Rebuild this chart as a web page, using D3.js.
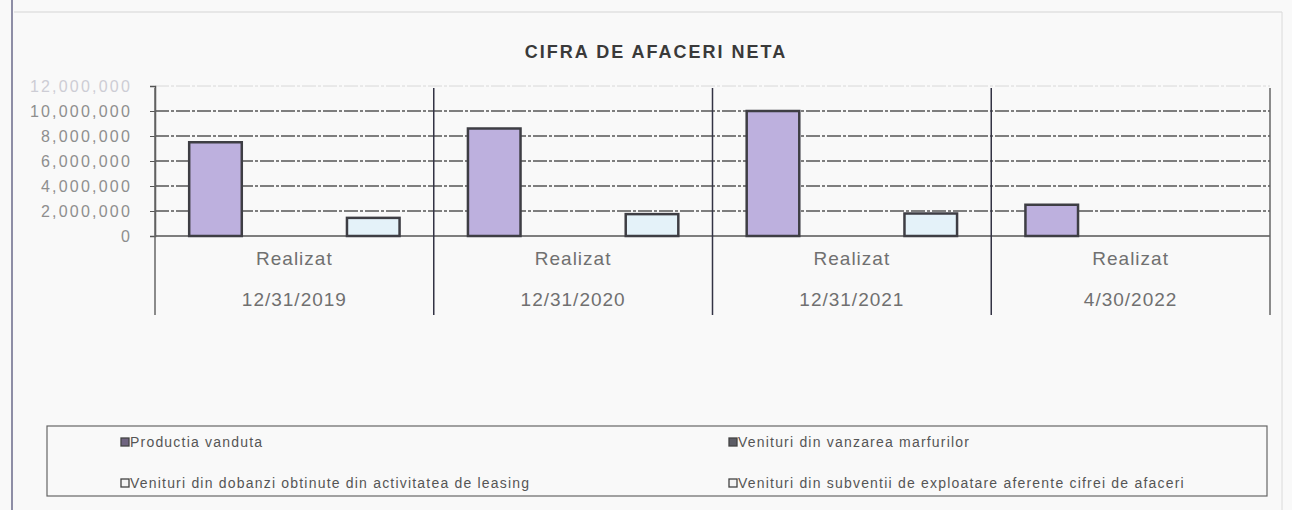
<!DOCTYPE html>
<html><head><meta charset="utf-8">
<script src="https://cdn.jsdelivr.net/npm/d3@7"></script>
<style>html,body{margin:0;padding:0;background:#f9f9f9;}svg{display:block;}</style>
</head><body>
<script>
const categories = ["12/31/2019","12/31/2020","12/31/2021","4/30/2022"];
const categoryPrefix = ["Realizat","Realizat","Realizat","Realizat"];
const seriesNames = ["Productia vanduta","Venituri din vanzarea marfurilor","Venituri din dobanzi obtinute din activitatea de leasing","Venituri din subventii de exploatare aferente cifrei de afaceri"];
const productiaVanduta = [7500000, 8600000, 10000000, 2500000];
const venituriMarfuri = [0, 0, 0, 0];
const venituriDobanzi = [0, 0, 0, 0];
const venituriSubventii = [1450000, 1750000, 1800000, 0];
const yTicks = [0, 2000000, 4000000, 6000000, 8000000, 10000000, 12000000];
const title = "CIFRA DE AFACERI NETA";

const seriesValues = [productiaVanduta, venituriMarfuri, venituriDobanzi, venituriSubventii];
const seriesFill = ["#bdb0de", "#6e6a7a", "#ffffff", "#e4f2f9"];
const legendMarker = ["#6f6480", "#5d5d66", "#f4f4f4", "#f4f4f4"];
const FONT = "Liberation Sans, Arial, sans-serif";

const W = 1292, H = 510;
const svg = d3.select("body").append("svg").attr("width", W).attr("height", H);
svg.append("rect").attr("width", W).attr("height", H).attr("fill", "#f9f9f9");

// outer frame
svg.append("line").attr("x1",12).attr("x2",12).attr("y1",0).attr("y2",H).attr("stroke","#6a6a8a").attr("stroke-width",1.5);
svg.append("line").attr("x1",14).attr("x2",1282).attr("y1",12).attr("y2",12).attr("stroke","#d5d5d5").attr("stroke-width",1);
svg.append("line").attr("x1",1282).attr("x2",1282).attr("y1",12).attr("y2",H).attr("stroke","#dadada").attr("stroke-width",1);

svg.append("text").attr("x", 656).attr("y", 58).attr("text-anchor","middle")
  .attr("font-family",FONT).attr("font-weight","bold").attr("letter-spacing", 2)
  .attr("font-size", 18).attr("fill","#3a3a3a").text(title);

const x0 = d3.scaleBand().domain(categories).range([155, 1270]).paddingInner(0).paddingOuter(0);
const x1 = d3.scaleBand().domain(d3.range(4)).range([0, x0.bandwidth()]).paddingInner(0).paddingOuter(0.65);
const y = d3.scaleLinear().domain([0, 12000000]).range([236, 86]);

// gridlines
const grid = svg.append("g");
grid.selectAll("line").data(yTicks).join("line")
  .attr("x1", 155).attr("x2", 1270)
  .attr("y1", d => y(d)).attr("y2", d => y(d))
  .attr("stroke", d => d === 12000000 ? "#d8d8d8" : "#555")
  .attr("stroke-width", d => d === 12000000 ? 1 : 1.6)
  .attr("stroke-dasharray", d => d === 0 ? null : "14,2,3,2");

// y axis
const yAxis = svg.append("g").attr("transform","translate(155,0)")
  .call(d3.axisLeft(y).tickValues(yTicks).tickSize(5).tickFormat(d3.format(",")));
yAxis.select(".domain").attr("stroke","#555").attr("stroke-width",1.5);
yAxis.selectAll(".tick line").attr("stroke","#555");
yAxis.selectAll("text").attr("font-family",FONT).attr("letter-spacing",2.2)
  .attr("font-size",16).attr("fill", d => d === 12000000 ? "#cdcdd5" : "#8e8e8e").attr("x",-23);

// category separators
const seps = x0.domain().map(c => x0(c)).concat([1270]);
svg.append("g").selectAll("line").data(seps).join("line")
  .attr("x1", d => d).attr("x2", d => d).attr("y1", 88).attr("y2", 315)
  .attr("stroke", (d,i) => i === 0 || i === seps.length-1 ? "#666" : "#334").attr("stroke-width",1.5);

// bars
const barData = [];
categories.forEach((c, ci) => seriesValues.forEach((s, si) => { if (s[ci] > 0) barData.push({c, si, v: s[ci]}); }));
svg.append("g").selectAll("rect").data(barData).join("rect")
  .attr("x", d => x0(d.c) + x1(d.si)).attr("width", x1.bandwidth())
  .attr("y", d => y(d.v)).attr("height", d => y(0) - y(d.v))
  .attr("fill", d => seriesFill[d.si]).attr("stroke","#3e3e44").attr("stroke-width",2.5);

// category labels
const cl = svg.append("g").attr("font-family",FONT).attr("font-size",19).attr("letter-spacing",1)
  .attr("fill","#707070").attr("text-anchor","middle");
cl.selectAll(".p").data(categories).join("text").attr("class","p")
  .attr("x", d => x0(d) + x0.bandwidth()/2).attr("y", 265).text((d,i) => categoryPrefix[i]);
cl.selectAll(".d").data(categories).join("text").attr("class","d")
  .attr("x", d => x0(d) + x0.bandwidth()/2).attr("y", 306).text(d => d);

// legend
svg.append("rect").attr("x",47).attr("y",426).attr("width",1220).attr("height",70)
  .attr("fill","none").attr("stroke","#666").attr("stroke-width",1.2);
const legPos = [[121,447],[729,447],[121,488],[729,488]];
const lg = svg.append("g").selectAll("g").data(seriesNames).join("g")
  .attr("transform",(d,i)=>`translate(${legPos[i][0]},${legPos[i][1]})`);
lg.append("rect").attr("x",0).attr("y",-9).attr("width",8).attr("height",8)
  .attr("fill",(d,i)=>legendMarker[i]).attr("stroke","#444").attr("stroke-width",1.3);
lg.append("text").attr("x",9).attr("y",0).attr("font-family",FONT).attr("letter-spacing",1.2)
  .attr("font-size",14).attr("fill","#555").text(d=>d);
</script>
</body></html>
